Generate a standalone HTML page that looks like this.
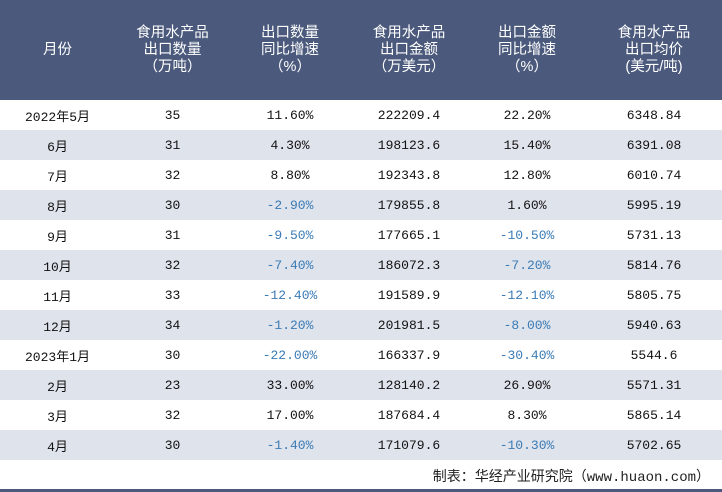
<!DOCTYPE html>
<html><head><meta charset="utf-8"><style>
body{margin:0;width:722px;height:492px;background:#fff;font-family:"Liberation Mono","Noto Sans CJK SC",monospace;position:relative;overflow:hidden}
table{border-collapse:collapse;width:722px;table-layout:fixed;position:absolute;top:0;left:0}
th{background:#4b5a7c;color:#fff;font-weight:normal;font-size:14.5px;line-height:17px;height:100px;padding:0;font-family:"Liberation Sans","Noto Sans CJK SC",sans-serif}
td{height:30px;padding:0;text-align:center;font-size:13px;color:#111}
tr.alt td{background:#dfe3ec}
td.neg{color:#3a7bb5}
#foot{position:absolute;top:466px;right:12px;font-size:14px;color:#222}
#bar{position:absolute;left:0;bottom:0;width:722px;height:3px;background:#4b5a7c}
</style></head><body>
<table>
<colgroup><col style="width:115px"><col style="width:115px"><col style="width:120px"><col style="width:118px"><col style="width:118px"><col style="width:136px"></colgroup>
<thead><tr>
<th>月份</th>
<th>食用水产品<br>出口数量<br>（万吨）</th>
<th>出口数量<br>同比增速<br>（%）</th>
<th>食用水产品<br>出口金额<br>（万美元）</th>
<th>出口金额<br>同比增速<br>（%）</th>
<th>食用水产品<br>出口均价<br>(美元/吨)</th>
</tr></thead>
<tbody id="tb"></tbody></table>
<div id="foot">制表：华经产业研究院（www.huaon.com）</div>
<div id="bar"></div>
<script>
const months=["2022年5月","6月","7月","8月","9月","10月","11月","12月","2023年1月","2月","3月","4月"];
const volumes=["35","31","32","30","31","32","33","34","30","23","32","30"];
const volGrowth=["11.60%","4.30%","8.80%","-2.90%","-9.50%","-7.40%","-12.40%","-1.20%","-22.00%","33.00%","17.00%","-1.40%"];
const values=["222209.4","198123.6","192343.8","179855.8","177665.1","186072.3","191589.9","201981.5","166337.9","128140.2","187684.4","171079.6"];
const valGrowth=["22.20%","15.40%","12.80%","1.60%","-10.50%","-7.20%","-12.10%","-8.00%","-30.40%","26.90%","8.30%","-10.30%"];
const prices=["6348.84","6391.08","6010.74","5995.19","5731.13","5814.76","5805.75","5940.63","5544.6","5571.31","5865.14","5702.65"];
const tb=document.getElementById('tb');
const names=["month","volume","volume-growth","value","value-growth","price"];
months.forEach((m,i)=>{
 const tr=document.createElement('tr');
 
 
 if(i%2)tr.className='alt';
 [m,volumes[i],volGrowth[i],values[i],valGrowth[i],prices[i]].forEach((v,j)=>{
  const td=document.createElement('td');
  
  
  td.textContent=v;
  if(v.startsWith('-'))td.className='neg';
  tr.appendChild(td);
 });
 tb.appendChild(tr);
});
</script>
</body></html>
